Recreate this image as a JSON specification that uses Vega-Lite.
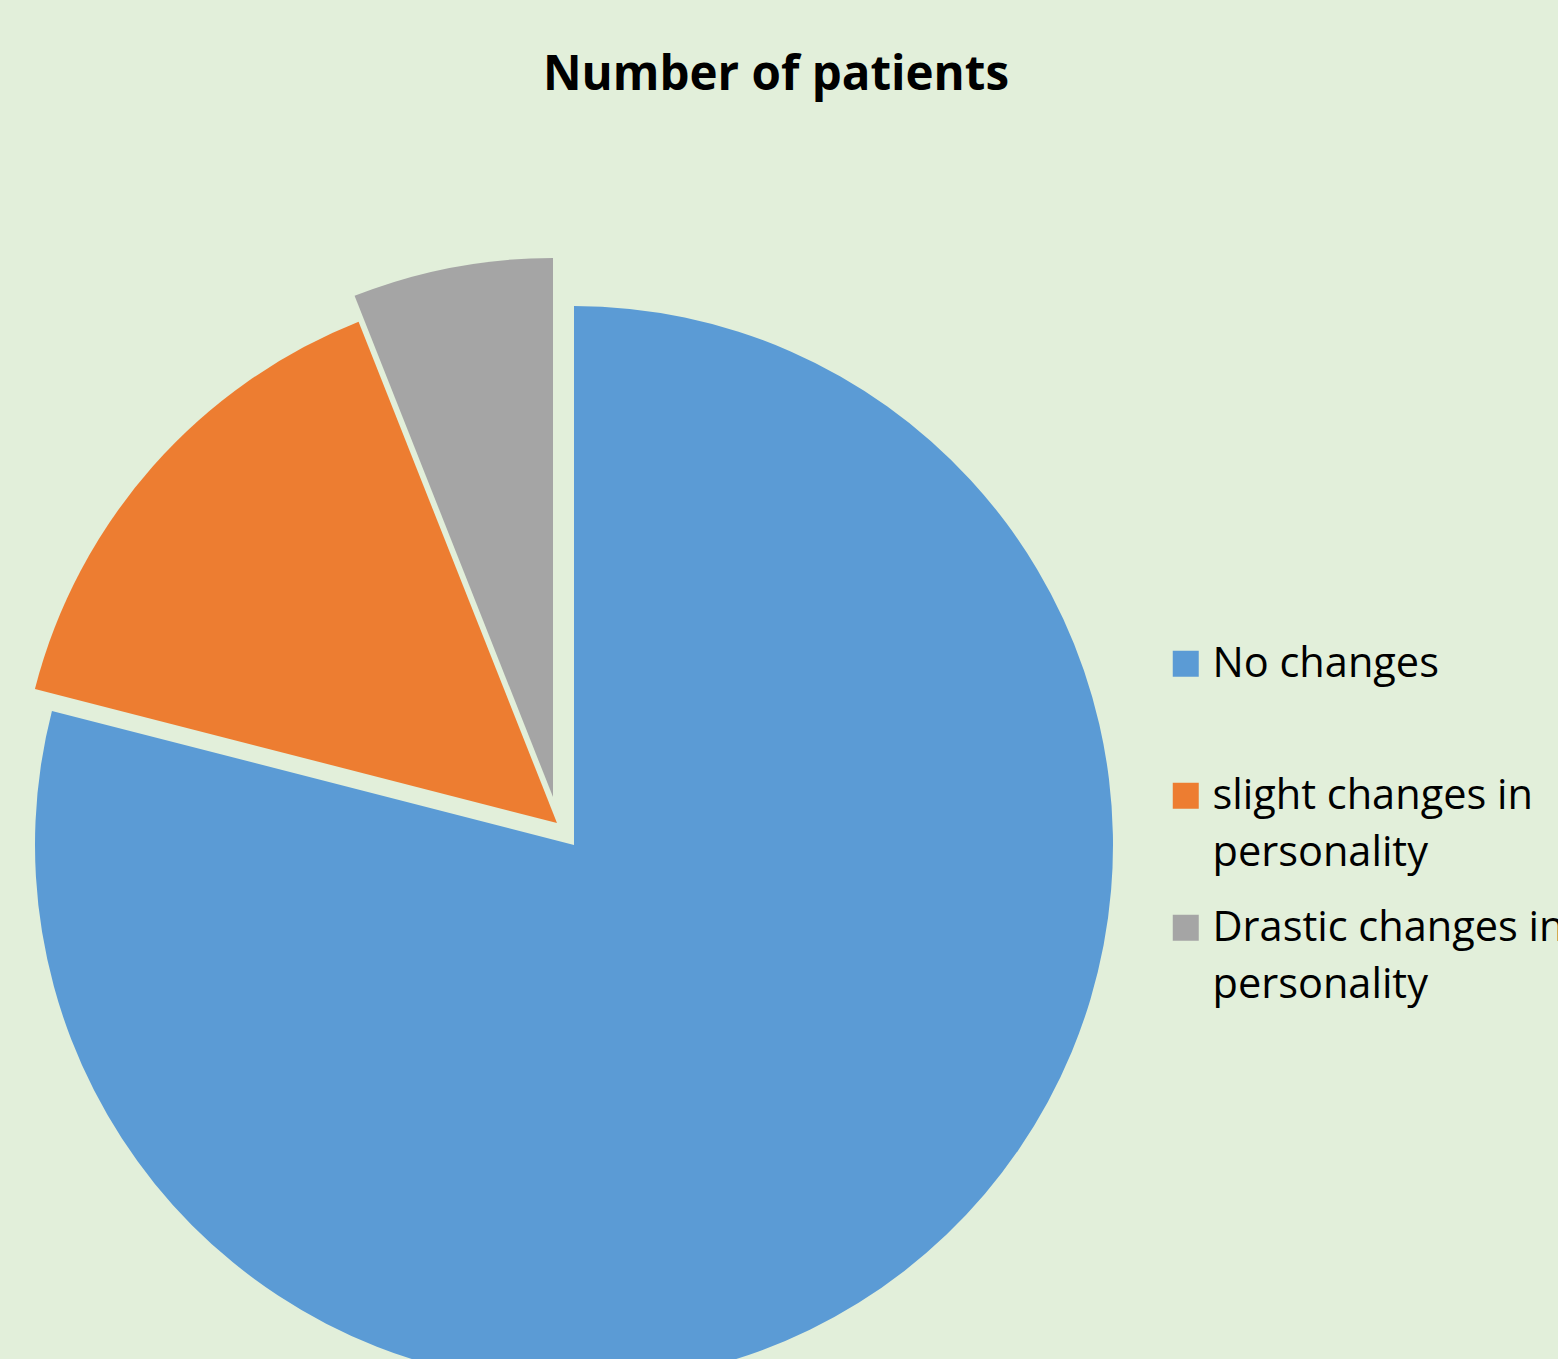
{
  "$schema": "https://vega.github.io/schema/vega-lite/v6.json",
  "width": 1148,
  "height": 1028,
  "autosize": {"type": "none"},
  "padding": {"left": 0, "top": 331, "right": 410, "bottom": 0},
  "background": "#E2EFDA",
  "title": {
    "text": "Number of patients",
    "font": "Open Sans",
    "fontSize": 47.5,
    "fontWeight": "bold",
    "color": "#000000",
    "anchor": "middle",
    "frame": "group",
    "baseline": "alphabetic",
    "offset": 121,
    "dx": 202
  },
  "config": {"view": {"stroke": null}},
  "data": {
    "values": [
      {"category": "No changes", "value": 79, "order": 1},
      {"category": "slight changes in personality", "value": 15, "order": 2},
      {"category": "Drastic changes in personality", "value": 6, "order": 3}
    ]
  },
  "transform": [
    {"stack": "value", "groupby": [], "as": ["v0", "v1"], "sort": [{"field": "order", "order": "ascending"}]}
  ],
  "encoding": {
    "theta": {"field": "v0", "type": "quantitative", "stack": null, "scale": {"domain": [0, 100]}},
    "theta2": {"field": "v1"},
    "color": {
      "field": "category",
      "type": "nominal",
      "sort": ["No changes", "slight changes in personality", "Drastic changes in personality"],
      "scale": {
        "domain": ["No changes", "slight changes in personality", "Drastic changes in personality"],
        "range": ["#5B9BD5", "#ED7D31", "#A5A5A5"]
      },
      "legend": {
        "title": null,
        "orient": "none",
        "legendX": 1165,
        "legendY": 312,
        "padding": 0,
        "symbolType": "square",
        "symbolSize": 676,
        "symbolStrokeWidth": 0,
        "labelFont": "Open Sans",
        "labelFontSize": 41.5,
        "labelColor": "#000000",
        "labelLimit": 1000,
        "labelOffset": 6,
        "labelBaseline": "top",
        "gridAlign": "all",
        "rowPadding": 32,
        "labelExpr": "datum.label === 'No changes' ? datum.label : [replace(datum.label, ' personality', ''), 'personality']",
        "encode": {"labels": {"update": {"lineHeight": {"value": 57}, "dy": {"value": -20}}}}
      }
    }
  },
  "layer": [
    {
      "transform": [{"filter": "datum.order == 1"}],
      "mark": {"type": "arc", "outerRadius": 539}
    },
    {
      "transform": [{"filter": "datum.order == 2"}],
      "mark": {"type": "arc", "outerRadius": 539, "xOffset": -17, "yOffset": -22}
    },
    {
      "transform": [{"filter": "datum.order == 3"}],
      "mark": {"type": "arc", "outerRadius": 539, "xOffset": -21, "yOffset": -48}
    }
  ]
}
